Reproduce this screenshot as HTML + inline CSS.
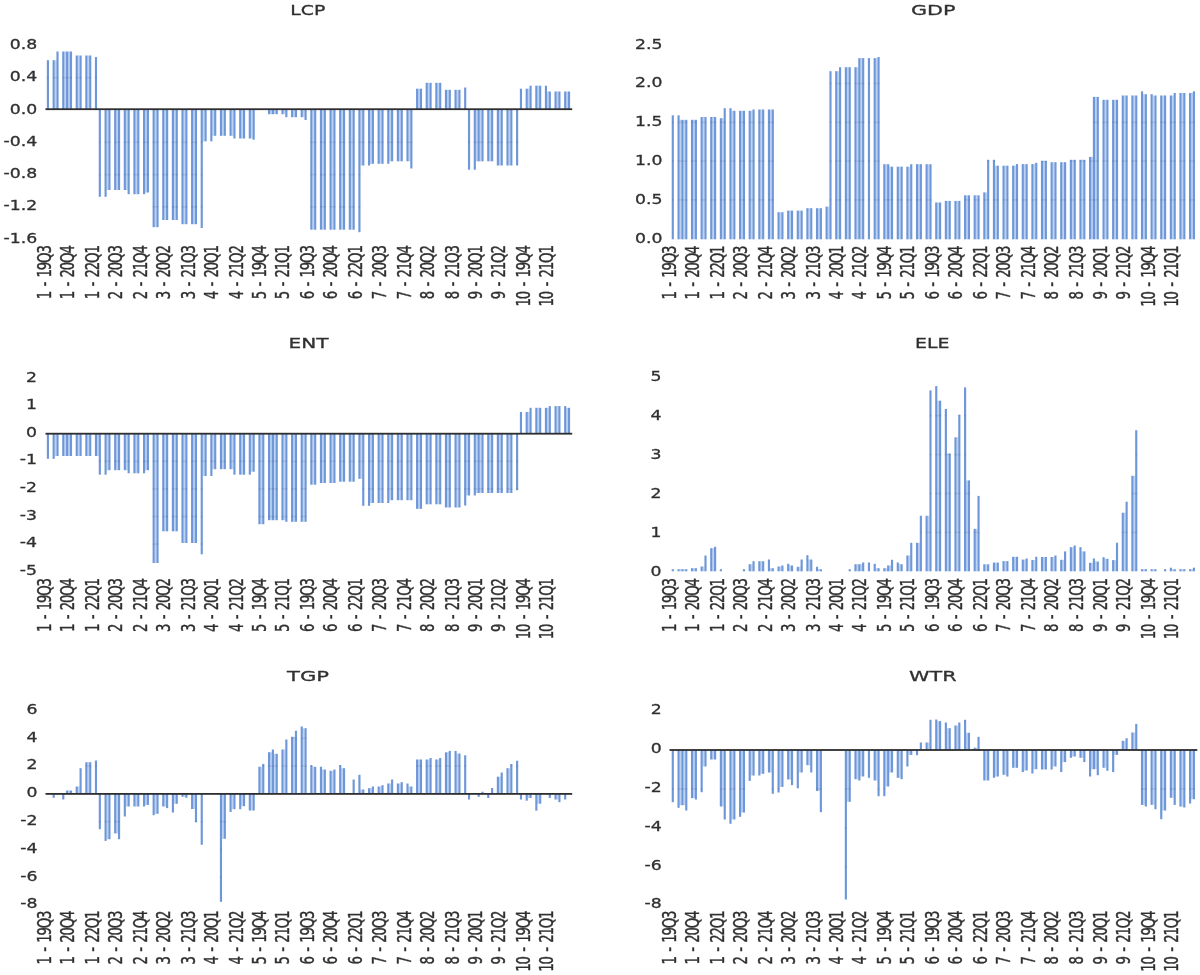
<!DOCTYPE html>
<html lang="en"><head><meta charset="utf-8"><title>Panel bar charts: LCP, GDP, ENT, ELE, TGP, WTR</title>
<style>html,body{margin:0;padding:0;background:#fff;}body{width:1200px;height:975px;overflow:hidden;}svg{display:block;}text{font-family:"DejaVu Sans", "Liberation Sans", sans-serif;fill:#303030;stroke:#303030;stroke-width:0.3px;}.t{stroke-width:0.3px;}.r{stroke-width:0.3px;letter-spacing:-1.15px;word-spacing:2.3px;}</style></head><body>
<svg width="1200" height="975" viewBox="0 0 1200 975">
<defs><filter id="soft" x="0" y="0" width="1200" height="975" filterUnits="userSpaceOnUse"><feGaussianBlur stdDeviation="0.62"/></filter></defs>
<rect width="1200" height="975" fill="#ffffff"/>
<g filter="url(#soft)">
<g>
<defs><g id="llcp"><rect x="54.63" y="60.2" width="1.92" height="49"/><rect x="64.25" y="51.5" width="1.92" height="57.7"/><rect x="68.09" y="51.5" width="1.92" height="57.7"/><rect x="77.71" y="55.5" width="1.92" height="53.7"/><rect x="87.32" y="55.5" width="1.92" height="53.7"/><rect x="106.55" y="109.2" width="1.92" height="80.8"/><rect x="116.17" y="109.2" width="1.92" height="80.8"/><rect x="125.78" y="109.2" width="1.92" height="80.8"/><rect x="135.4" y="109.2" width="1.92" height="85"/><rect x="145.01" y="109.2" width="1.92" height="83.3"/><rect x="154.63" y="109.2" width="1.92" height="118"/><rect x="164.24" y="109.2" width="1.92" height="110.8"/><rect x="173.86" y="109.2" width="1.92" height="110.8"/><rect x="183.47" y="109.2" width="1.92" height="115"/><rect x="193.09" y="109.2" width="1.92" height="115"/><rect x="202.7" y="109.2" width="1.92" height="32.1"/><rect x="212.32" y="109.2" width="1.92" height="26.6"/><rect x="221.93" y="109.2" width="1.92" height="26.6"/><rect x="231.55" y="109.2" width="1.92" height="26.6"/><rect x="241.16" y="109.2" width="1.92" height="29.3"/><rect x="250.78" y="109.2" width="1.92" height="29.3"/><rect x="270.01" y="109.2" width="1.92" height="5"/><rect x="273.85" y="109.2" width="1.92" height="5"/><rect x="283.47" y="109.2" width="1.92" height="5"/><rect x="293.08" y="109.2" width="1.92" height="8"/><rect x="302.7" y="109.2" width="1.92" height="8"/><rect x="312.31" y="109.2" width="1.92" height="120.5"/><rect x="321.93" y="109.2" width="1.92" height="120.5"/><rect x="331.54" y="109.2" width="1.92" height="120.5"/><rect x="341.16" y="109.2" width="1.92" height="120.5"/><rect x="350.77" y="109.2" width="1.92" height="120.5"/><rect x="360.39" y="109.2" width="1.92" height="56.3"/><rect x="370" y="109.2" width="1.92" height="54.6"/><rect x="379.62" y="109.2" width="1.92" height="54.6"/><rect x="389.23" y="109.2" width="1.92" height="52.1"/><rect x="398.85" y="109.2" width="1.92" height="52.1"/><rect x="408.46" y="109.2" width="1.92" height="52.1"/><rect x="418.08" y="88.7" width="1.92" height="20.5"/><rect x="427.69" y="82.8" width="1.92" height="26.4"/><rect x="437.31" y="82.8" width="1.92" height="26.4"/><rect x="446.92" y="89.8" width="1.92" height="19.4"/><rect x="456.54" y="89.8" width="1.92" height="19.4"/><rect x="475.77" y="109.2" width="1.92" height="52.1"/><rect x="479.61" y="109.2" width="1.92" height="52.1"/><rect x="489.23" y="109.2" width="1.92" height="52.1"/><rect x="498.84" y="109.2" width="1.92" height="56.3"/><rect x="508.46" y="109.2" width="1.92" height="56.3"/><rect x="527.69" y="88.7" width="1.92" height="20.5"/><rect x="537.3" y="85.7" width="1.92" height="23.5"/><rect x="546.92" y="91.5" width="1.92" height="17.7"/><rect x="556.53" y="91.5" width="1.92" height="17.7"/><rect x="566.15" y="91.5" width="1.92" height="17.7"/></g><g id="blcp"><rect x="46.82" y="60.2" width="2.15" height="49"/><rect x="52.59" y="60.2" width="2.15" height="49"/><rect x="56.44" y="51.5" width="2.15" height="57.7"/><rect x="62.21" y="51.5" width="2.15" height="57.7"/><rect x="66.05" y="51.5" width="2.15" height="57.7"/><rect x="69.9" y="51.5" width="2.15" height="57.7"/><rect x="75.67" y="55.5" width="2.15" height="53.7"/><rect x="79.52" y="55.5" width="2.15" height="53.7"/><rect x="85.28" y="55.5" width="2.15" height="53.7"/><rect x="89.13" y="55.5" width="2.15" height="53.7"/><rect x="94.9" y="57" width="2.15" height="52.2"/><rect x="98.75" y="109.2" width="2.15" height="87.6"/><rect x="104.52" y="109.2" width="2.15" height="87.6"/><rect x="108.36" y="109.2" width="2.15" height="80.8"/><rect x="114.13" y="109.2" width="2.15" height="80.8"/><rect x="117.98" y="109.2" width="2.15" height="80.8"/><rect x="123.74" y="109.2" width="2.15" height="80.8"/><rect x="127.59" y="109.2" width="2.15" height="85"/><rect x="133.36" y="109.2" width="2.15" height="85"/><rect x="137.21" y="109.2" width="2.15" height="85"/><rect x="142.98" y="109.2" width="2.15" height="85"/><rect x="146.82" y="109.2" width="2.15" height="83.3"/><rect x="152.59" y="109.2" width="2.15" height="118"/><rect x="156.44" y="109.2" width="2.15" height="118"/><rect x="162.21" y="109.2" width="2.15" height="110.8"/><rect x="166.05" y="109.2" width="2.15" height="110.8"/><rect x="171.82" y="109.2" width="2.15" height="110.8"/><rect x="175.67" y="109.2" width="2.15" height="110.8"/><rect x="181.44" y="109.2" width="2.15" height="115"/><rect x="185.28" y="109.2" width="2.15" height="115"/><rect x="191.05" y="109.2" width="2.15" height="115"/><rect x="194.9" y="109.2" width="2.15" height="115"/><rect x="200.67" y="109.2" width="2.15" height="118.8"/><rect x="204.51" y="109.2" width="2.15" height="32.1"/><rect x="210.28" y="109.2" width="2.15" height="32.1"/><rect x="214.13" y="109.2" width="2.15" height="26.6"/><rect x="219.9" y="109.2" width="2.15" height="26.6"/><rect x="223.74" y="109.2" width="2.15" height="26.6"/><rect x="229.51" y="109.2" width="2.15" height="26.6"/><rect x="233.36" y="109.2" width="2.15" height="29.3"/><rect x="239.13" y="109.2" width="2.15" height="29.3"/><rect x="242.97" y="109.2" width="2.15" height="29.3"/><rect x="248.74" y="109.2" width="2.15" height="29.3"/><rect x="252.59" y="109.2" width="2.15" height="30.5"/><rect x="267.97" y="109.2" width="2.15" height="5"/><rect x="271.82" y="109.2" width="2.15" height="5"/><rect x="275.66" y="109.2" width="2.15" height="5"/><rect x="281.43" y="109.2" width="2.15" height="5"/><rect x="285.28" y="109.2" width="2.15" height="8"/><rect x="291.05" y="109.2" width="2.15" height="8"/><rect x="294.89" y="109.2" width="2.15" height="8"/><rect x="300.66" y="109.2" width="2.15" height="8"/><rect x="304.51" y="109.2" width="2.15" height="10.8"/><rect x="310.28" y="109.2" width="2.15" height="120.5"/><rect x="314.12" y="109.2" width="2.15" height="120.5"/><rect x="319.89" y="109.2" width="2.15" height="120.5"/><rect x="323.74" y="109.2" width="2.15" height="120.5"/><rect x="329.51" y="109.2" width="2.15" height="120.5"/><rect x="333.35" y="109.2" width="2.15" height="120.5"/><rect x="339.12" y="109.2" width="2.15" height="120.5"/><rect x="342.97" y="109.2" width="2.15" height="120.5"/><rect x="348.74" y="109.2" width="2.15" height="120.5"/><rect x="352.58" y="109.2" width="2.15" height="120.5"/><rect x="358.35" y="109.2" width="2.15" height="123"/><rect x="362.2" y="109.2" width="2.15" height="56.3"/><rect x="367.97" y="109.2" width="2.15" height="56.3"/><rect x="371.81" y="109.2" width="2.15" height="54.6"/><rect x="377.58" y="109.2" width="2.15" height="54.6"/><rect x="381.43" y="109.2" width="2.15" height="54.6"/><rect x="387.2" y="109.2" width="2.15" height="54.6"/><rect x="391.04" y="109.2" width="2.15" height="52.1"/><rect x="396.81" y="109.2" width="2.15" height="52.1"/><rect x="400.66" y="109.2" width="2.15" height="52.1"/><rect x="406.43" y="109.2" width="2.15" height="52.1"/><rect x="410.27" y="109.2" width="2.15" height="59.3"/><rect x="416.04" y="88.7" width="2.15" height="20.5"/><rect x="419.89" y="88.7" width="2.15" height="20.5"/><rect x="425.66" y="82.8" width="2.15" height="26.4"/><rect x="429.5" y="82.8" width="2.15" height="26.4"/><rect x="435.27" y="82.8" width="2.15" height="26.4"/><rect x="439.12" y="82.8" width="2.15" height="26.4"/><rect x="444.89" y="89.8" width="2.15" height="19.4"/><rect x="448.73" y="89.8" width="2.15" height="19.4"/><rect x="454.5" y="89.8" width="2.15" height="19.4"/><rect x="458.35" y="89.8" width="2.15" height="19.4"/><rect x="464.12" y="87.5" width="2.15" height="21.7"/><rect x="467.96" y="109.2" width="2.15" height="60.5"/><rect x="473.73" y="109.2" width="2.15" height="60.5"/><rect x="477.58" y="109.2" width="2.15" height="52.1"/><rect x="481.42" y="109.2" width="2.15" height="52.1"/><rect x="487.19" y="109.2" width="2.15" height="52.1"/><rect x="491.04" y="109.2" width="2.15" height="52.1"/><rect x="496.81" y="109.2" width="2.15" height="56.3"/><rect x="500.65" y="109.2" width="2.15" height="56.3"/><rect x="506.42" y="109.2" width="2.15" height="56.3"/><rect x="510.27" y="109.2" width="2.15" height="56.3"/><rect x="516.04" y="109.2" width="2.15" height="56.3"/><rect x="519.88" y="88.7" width="2.15" height="20.5"/><rect x="525.65" y="88.7" width="2.15" height="20.5"/><rect x="529.5" y="85.7" width="2.15" height="23.5"/><rect x="535.27" y="85.7" width="2.15" height="23.5"/><rect x="539.11" y="85.7" width="2.15" height="23.5"/><rect x="544.88" y="85.7" width="2.15" height="23.5"/><rect x="548.73" y="91.5" width="2.15" height="17.7"/><rect x="554.5" y="91.5" width="2.15" height="17.7"/><rect x="558.34" y="91.5" width="2.15" height="17.7"/><rect x="564.11" y="91.5" width="2.15" height="17.7"/><rect x="567.96" y="91.5" width="2.15" height="17.7"/></g></defs>
<use href="#llcp" fill="#bdd2f1"/><use href="#blcp" fill="#6e97d9"/>
<mask id="mlcp" maskUnits="userSpaceOnUse" x="0" y="0" width="1200" height="975"><use href="#llcp" fill="#fff"/><use href="#blcp" fill="#fff"/></mask>
<g mask="url(#mlcp)" fill="rgba(40,60,120,0.13)"><rect x="37.9" y="44.66" width="540" height="1.6"/><rect x="37.9" y="76.93" width="540" height="1.6"/><rect x="37.9" y="141.47" width="540" height="1.6"/><rect x="37.9" y="173.74" width="540" height="1.6"/><rect x="37.9" y="206.01" width="540" height="1.6"/><rect x="37.9" y="238.28" width="540" height="1.6"/></g>
<rect x="45.5" y="108.3" width="526.7" height="1.8" fill="#2e2e2e"/>
<text class="t" x="307.8" y="14.8" font-size="14.9" text-anchor="middle" textLength="35" lengthAdjust="spacingAndGlyphs">LCP</text>
<text transform="translate(37.3,49.06) scale(1.3,1)" font-size="13.3" text-anchor="end">0.8</text>
<text transform="translate(37.3,81.33) scale(1.3,1)" font-size="13.3" text-anchor="end">0.4</text>
<text transform="translate(37.3,113.6) scale(1.3,1)" font-size="13.3" text-anchor="end">0.0</text>
<text transform="translate(37.3,145.87) scale(1.3,1)" font-size="13.3" text-anchor="end">-0.4</text>
<text transform="translate(37.3,178.14) scale(1.3,1)" font-size="13.3" text-anchor="end">-0.8</text>
<text transform="translate(37.3,210.41) scale(1.3,1)" font-size="13.3" text-anchor="end">-1.2</text>
<text transform="translate(37.3,242.68) scale(1.3,1)" font-size="13.3" text-anchor="end">-1.6</text>
<text transform="translate(50.9,246.3) scale(1.4,1) rotate(-90)" class="r" font-size="13.3" text-anchor="end">1 - 19Q3</text>
<text transform="translate(73.98,246.3) scale(1.4,1) rotate(-90)" class="r" font-size="13.3" text-anchor="end">1 - 20Q4</text>
<text transform="translate(98.97,246.3) scale(1.4,1) rotate(-90)" class="r" font-size="13.3" text-anchor="end">1 - 22Q1</text>
<text transform="translate(122.05,246.3) scale(1.4,1) rotate(-90)" class="r" font-size="13.3" text-anchor="end">2 - 20Q3</text>
<text transform="translate(147.05,246.3) scale(1.4,1) rotate(-90)" class="r" font-size="13.3" text-anchor="end">2 - 21Q4</text>
<text transform="translate(170.13,246.3) scale(1.4,1) rotate(-90)" class="r" font-size="13.3" text-anchor="end">3 - 20Q2</text>
<text transform="translate(195.12,246.3) scale(1.4,1) rotate(-90)" class="r" font-size="13.3" text-anchor="end">3 - 21Q3</text>
<text transform="translate(218.2,246.3) scale(1.4,1) rotate(-90)" class="r" font-size="13.3" text-anchor="end">4 - 20Q1</text>
<text transform="translate(243.2,246.3) scale(1.4,1) rotate(-90)" class="r" font-size="13.3" text-anchor="end">4 - 21Q2</text>
<text transform="translate(266.28,246.3) scale(1.4,1) rotate(-90)" class="r" font-size="13.3" text-anchor="end">5 - 19Q4</text>
<text transform="translate(289.35,246.3) scale(1.4,1) rotate(-90)" class="r" font-size="13.3" text-anchor="end">5 - 21Q1</text>
<text transform="translate(314.35,246.3) scale(1.4,1) rotate(-90)" class="r" font-size="13.3" text-anchor="end">6 - 19Q3</text>
<text transform="translate(337.43,246.3) scale(1.4,1) rotate(-90)" class="r" font-size="13.3" text-anchor="end">6 - 20Q4</text>
<text transform="translate(362.43,246.3) scale(1.4,1) rotate(-90)" class="r" font-size="13.3" text-anchor="end">6 - 22Q1</text>
<text transform="translate(385.5,246.3) scale(1.4,1) rotate(-90)" class="r" font-size="13.3" text-anchor="end">7 - 20Q3</text>
<text transform="translate(410.5,246.3) scale(1.4,1) rotate(-90)" class="r" font-size="13.3" text-anchor="end">7 - 21Q4</text>
<text transform="translate(433.58,246.3) scale(1.4,1) rotate(-90)" class="r" font-size="13.3" text-anchor="end">8 - 20Q2</text>
<text transform="translate(458.58,246.3) scale(1.4,1) rotate(-90)" class="r" font-size="13.3" text-anchor="end">8 - 21Q3</text>
<text transform="translate(481.65,246.3) scale(1.4,1) rotate(-90)" class="r" font-size="13.3" text-anchor="end">9 - 20Q1</text>
<text transform="translate(504.73,246.3) scale(1.4,1) rotate(-90)" class="r" font-size="13.3" text-anchor="end">9 - 21Q2</text>
<text transform="translate(529.73,246.3) scale(1.4,1) rotate(-90)" class="r" font-size="13.3" text-anchor="end">10 - 19Q4</text>
<text transform="translate(552.8,246.3) scale(1.4,1) rotate(-90)" class="r" font-size="13.3" text-anchor="end">10 - 21Q1</text>
</g>
<g>
<defs><g id="lgdp"><rect x="679.53" y="119.8" width="1.92" height="119.5"/><rect x="683.38" y="119.8" width="1.92" height="119.5"/><rect x="692.99" y="119.8" width="1.92" height="119.5"/><rect x="702.61" y="117" width="1.92" height="122.3"/><rect x="712.22" y="117" width="1.92" height="122.3"/><rect x="721.84" y="118.2" width="1.92" height="121.1"/><rect x="731.45" y="110.8" width="1.92" height="128.5"/><rect x="741.07" y="110.8" width="1.92" height="128.5"/><rect x="750.68" y="110.8" width="1.92" height="128.5"/><rect x="760.3" y="109.5" width="1.92" height="129.8"/><rect x="769.91" y="109.5" width="1.92" height="129.8"/><rect x="779.53" y="212.2" width="1.92" height="27.1"/><rect x="789.14" y="210.6" width="1.92" height="28.7"/><rect x="798.76" y="210.6" width="1.92" height="28.7"/><rect x="808.37" y="208.2" width="1.92" height="31.1"/><rect x="817.99" y="208.2" width="1.92" height="31.1"/><rect x="827.6" y="206.6" width="1.92" height="32.7"/><rect x="837.22" y="71.2" width="1.92" height="168.1"/><rect x="846.83" y="67.2" width="1.92" height="172.1"/><rect x="856.45" y="67.2" width="1.92" height="172.1"/><rect x="860.29" y="58.1" width="1.92" height="181.2"/><rect x="875.68" y="58.1" width="1.92" height="181.2"/><rect x="885.29" y="164.2" width="1.92" height="75.1"/><rect x="889.14" y="166.7" width="1.92" height="72.6"/><rect x="898.75" y="166.7" width="1.92" height="72.6"/><rect x="908.37" y="166.7" width="1.92" height="72.6"/><rect x="917.98" y="164.2" width="1.92" height="75.1"/><rect x="927.6" y="164.2" width="1.92" height="75.1"/><rect x="937.21" y="202.5" width="1.92" height="36.8"/><rect x="946.83" y="200.9" width="1.92" height="38.4"/><rect x="956.44" y="200.9" width="1.92" height="38.4"/><rect x="966.06" y="195.3" width="1.92" height="44"/><rect x="975.67" y="195.3" width="1.92" height="44"/><rect x="985.29" y="192.4" width="1.92" height="46.9"/><rect x="994.9" y="165.7" width="1.92" height="73.6"/><rect x="1004.52" y="165.7" width="1.92" height="73.6"/><rect x="1014.13" y="165.7" width="1.92" height="73.6"/><rect x="1023.75" y="164.1" width="1.92" height="75.2"/><rect x="1033.36" y="164.1" width="1.92" height="75.2"/><rect x="1042.98" y="160.8" width="1.92" height="78.5"/><rect x="1052.59" y="162.2" width="1.92" height="77.1"/><rect x="1062.21" y="162.2" width="1.92" height="77.1"/><rect x="1071.82" y="159.8" width="1.92" height="79.5"/><rect x="1081.44" y="159.8" width="1.92" height="79.5"/><rect x="1091.05" y="156.9" width="1.92" height="82.4"/><rect x="1094.9" y="96.9" width="1.92" height="142.4"/><rect x="1104.51" y="99.8" width="1.92" height="139.5"/><rect x="1114.13" y="99.8" width="1.92" height="139.5"/><rect x="1123.74" y="95.5" width="1.92" height="143.8"/><rect x="1133.36" y="95.5" width="1.92" height="143.8"/><rect x="1142.97" y="94.2" width="1.92" height="145.1"/><rect x="1152.59" y="95.5" width="1.92" height="143.8"/><rect x="1162.2" y="95.5" width="1.92" height="143.8"/><rect x="1171.82" y="95.5" width="1.92" height="143.8"/><rect x="1181.43" y="93" width="1.92" height="146.3"/><rect x="1191.05" y="93" width="1.92" height="146.3"/></g><g id="bgdp"><rect x="671.72" y="115.3" width="2.15" height="124"/><rect x="677.49" y="115.3" width="2.15" height="124"/><rect x="681.34" y="119.8" width="2.15" height="119.5"/><rect x="685.19" y="119.8" width="2.15" height="119.5"/><rect x="690.95" y="119.8" width="2.15" height="119.5"/><rect x="694.8" y="119.8" width="2.15" height="119.5"/><rect x="700.57" y="117" width="2.15" height="122.3"/><rect x="704.42" y="117" width="2.15" height="122.3"/><rect x="710.18" y="117" width="2.15" height="122.3"/><rect x="714.03" y="117" width="2.15" height="122.3"/><rect x="719.8" y="118.2" width="2.15" height="121.1"/><rect x="723.65" y="108.2" width="2.15" height="131.1"/><rect x="729.41" y="108.2" width="2.15" height="131.1"/><rect x="733.26" y="110.8" width="2.15" height="128.5"/><rect x="739.03" y="110.8" width="2.15" height="128.5"/><rect x="742.88" y="110.8" width="2.15" height="128.5"/><rect x="748.64" y="110.8" width="2.15" height="128.5"/><rect x="752.49" y="109.5" width="2.15" height="129.8"/><rect x="758.26" y="109.5" width="2.15" height="129.8"/><rect x="762.11" y="109.5" width="2.15" height="129.8"/><rect x="767.87" y="109.5" width="2.15" height="129.8"/><rect x="771.72" y="109.5" width="2.15" height="129.8"/><rect x="777.49" y="212.2" width="2.15" height="27.1"/><rect x="781.34" y="212.2" width="2.15" height="27.1"/><rect x="787.1" y="210.6" width="2.15" height="28.7"/><rect x="790.95" y="210.6" width="2.15" height="28.7"/><rect x="796.72" y="210.6" width="2.15" height="28.7"/><rect x="800.57" y="210.6" width="2.15" height="28.7"/><rect x="806.33" y="208.2" width="2.15" height="31.1"/><rect x="810.18" y="208.2" width="2.15" height="31.1"/><rect x="815.95" y="208.2" width="2.15" height="31.1"/><rect x="819.8" y="208.2" width="2.15" height="31.1"/><rect x="825.56" y="206.6" width="2.15" height="32.7"/><rect x="829.41" y="71.2" width="2.15" height="168.1"/><rect x="835.18" y="71.2" width="2.15" height="168.1"/><rect x="839.03" y="67.2" width="2.15" height="172.1"/><rect x="844.79" y="67.2" width="2.15" height="172.1"/><rect x="848.64" y="67.2" width="2.15" height="172.1"/><rect x="854.41" y="67.2" width="2.15" height="172.1"/><rect x="858.26" y="58.1" width="2.15" height="181.2"/><rect x="862.1" y="58.1" width="2.15" height="181.2"/><rect x="867.87" y="58.1" width="2.15" height="181.2"/><rect x="873.64" y="58.1" width="2.15" height="181.2"/><rect x="877.49" y="57" width="2.15" height="182.3"/><rect x="883.25" y="164.2" width="2.15" height="75.1"/><rect x="887.1" y="164.2" width="2.15" height="75.1"/><rect x="890.95" y="166.7" width="2.15" height="72.6"/><rect x="896.72" y="166.7" width="2.15" height="72.6"/><rect x="900.56" y="166.7" width="2.15" height="72.6"/><rect x="906.33" y="166.7" width="2.15" height="72.6"/><rect x="910.18" y="164.2" width="2.15" height="75.1"/><rect x="915.95" y="164.2" width="2.15" height="75.1"/><rect x="919.79" y="164.2" width="2.15" height="75.1"/><rect x="925.56" y="164.2" width="2.15" height="75.1"/><rect x="929.41" y="164.2" width="2.15" height="75.1"/><rect x="935.18" y="202.5" width="2.15" height="36.8"/><rect x="939.02" y="202.5" width="2.15" height="36.8"/><rect x="944.79" y="200.9" width="2.15" height="38.4"/><rect x="948.64" y="200.9" width="2.15" height="38.4"/><rect x="954.41" y="200.9" width="2.15" height="38.4"/><rect x="958.25" y="200.9" width="2.15" height="38.4"/><rect x="964.02" y="195.3" width="2.15" height="44"/><rect x="967.87" y="195.3" width="2.15" height="44"/><rect x="973.64" y="195.3" width="2.15" height="44"/><rect x="977.48" y="195.3" width="2.15" height="44"/><rect x="983.25" y="192.4" width="2.15" height="46.9"/><rect x="987.1" y="159.8" width="2.15" height="79.5"/><rect x="992.87" y="159.8" width="2.15" height="79.5"/><rect x="996.71" y="165.7" width="2.15" height="73.6"/><rect x="1002.48" y="165.7" width="2.15" height="73.6"/><rect x="1006.33" y="165.7" width="2.15" height="73.6"/><rect x="1012.1" y="165.7" width="2.15" height="73.6"/><rect x="1015.94" y="164.1" width="2.15" height="75.2"/><rect x="1021.71" y="164.1" width="2.15" height="75.2"/><rect x="1025.56" y="164.1" width="2.15" height="75.2"/><rect x="1031.33" y="164.1" width="2.15" height="75.2"/><rect x="1035.17" y="162.8" width="2.15" height="76.5"/><rect x="1040.94" y="160.8" width="2.15" height="78.5"/><rect x="1044.79" y="160.8" width="2.15" height="78.5"/><rect x="1050.56" y="162.2" width="2.15" height="77.1"/><rect x="1054.4" y="162.2" width="2.15" height="77.1"/><rect x="1060.17" y="162.2" width="2.15" height="77.1"/><rect x="1064.02" y="162.2" width="2.15" height="77.1"/><rect x="1069.79" y="159.8" width="2.15" height="79.5"/><rect x="1073.63" y="159.8" width="2.15" height="79.5"/><rect x="1079.4" y="159.8" width="2.15" height="79.5"/><rect x="1083.25" y="159.8" width="2.15" height="79.5"/><rect x="1089.02" y="156.9" width="2.15" height="82.4"/><rect x="1092.86" y="96.9" width="2.15" height="142.4"/><rect x="1096.71" y="96.9" width="2.15" height="142.4"/><rect x="1102.48" y="99.8" width="2.15" height="139.5"/><rect x="1106.32" y="99.8" width="2.15" height="139.5"/><rect x="1112.09" y="99.8" width="2.15" height="139.5"/><rect x="1115.94" y="99.8" width="2.15" height="139.5"/><rect x="1121.71" y="95.5" width="2.15" height="143.8"/><rect x="1125.55" y="95.5" width="2.15" height="143.8"/><rect x="1131.32" y="95.5" width="2.15" height="143.8"/><rect x="1135.17" y="95.5" width="2.15" height="143.8"/><rect x="1140.94" y="91.3" width="2.15" height="148"/><rect x="1144.78" y="94.2" width="2.15" height="145.1"/><rect x="1150.55" y="94.2" width="2.15" height="145.1"/><rect x="1154.4" y="95.5" width="2.15" height="143.8"/><rect x="1160.17" y="95.5" width="2.15" height="143.8"/><rect x="1164.01" y="95.5" width="2.15" height="143.8"/><rect x="1169.78" y="95.5" width="2.15" height="143.8"/><rect x="1173.63" y="93" width="2.15" height="146.3"/><rect x="1179.4" y="93" width="2.15" height="146.3"/><rect x="1183.24" y="93" width="2.15" height="146.3"/><rect x="1189.01" y="93" width="2.15" height="146.3"/><rect x="1192.86" y="91.3" width="2.15" height="148"/></g></defs>
<use href="#lgdp" fill="#bdd2f1"/><use href="#bgdp" fill="#6e97d9"/>
<mask id="mgdp" maskUnits="userSpaceOnUse" x="0" y="0" width="1200" height="975"><use href="#lgdp" fill="#fff"/><use href="#bgdp" fill="#fff"/></mask>
<g mask="url(#mgdp)" fill="rgba(40,60,120,0.13)"><rect x="662.8" y="43.9" width="540" height="1.6"/><rect x="662.8" y="82.7" width="540" height="1.6"/><rect x="662.8" y="121.5" width="540" height="1.6"/><rect x="662.8" y="160.3" width="540" height="1.6"/><rect x="662.8" y="199.1" width="540" height="1.6"/></g>
<text class="t" x="933.2" y="14.8" font-size="14.9" text-anchor="middle" textLength="44.5" lengthAdjust="spacingAndGlyphs">GDP</text>
<text transform="translate(662.4,48.6) scale(1.3,1)" font-size="13.3" text-anchor="end">2.5</text>
<text transform="translate(662.4,87.4) scale(1.3,1)" font-size="13.3" text-anchor="end">2.0</text>
<text transform="translate(662.4,126.2) scale(1.3,1)" font-size="13.3" text-anchor="end">1.5</text>
<text transform="translate(662.4,165) scale(1.3,1)" font-size="13.3" text-anchor="end">1.0</text>
<text transform="translate(662.4,203.8) scale(1.3,1)" font-size="13.3" text-anchor="end">0.5</text>
<text transform="translate(662.4,242.6) scale(1.3,1)" font-size="13.3" text-anchor="end">0.0</text>
<text transform="translate(675.8,246.6) scale(1.4,1) rotate(-90)" class="r" font-size="13.3" text-anchor="end">1 - 19Q3</text>
<text transform="translate(698.88,246.6) scale(1.4,1) rotate(-90)" class="r" font-size="13.3" text-anchor="end">1 - 20Q4</text>
<text transform="translate(723.88,246.6) scale(1.4,1) rotate(-90)" class="r" font-size="13.3" text-anchor="end">1 - 22Q1</text>
<text transform="translate(746.95,246.6) scale(1.4,1) rotate(-90)" class="r" font-size="13.3" text-anchor="end">2 - 20Q3</text>
<text transform="translate(771.95,246.6) scale(1.4,1) rotate(-90)" class="r" font-size="13.3" text-anchor="end">2 - 21Q4</text>
<text transform="translate(795.03,246.6) scale(1.4,1) rotate(-90)" class="r" font-size="13.3" text-anchor="end">3 - 20Q2</text>
<text transform="translate(820.02,246.6) scale(1.4,1) rotate(-90)" class="r" font-size="13.3" text-anchor="end">3 - 21Q3</text>
<text transform="translate(843.1,246.6) scale(1.4,1) rotate(-90)" class="r" font-size="13.3" text-anchor="end">4 - 20Q1</text>
<text transform="translate(866.18,246.6) scale(1.4,1) rotate(-90)" class="r" font-size="13.3" text-anchor="end">4 - 21Q2</text>
<text transform="translate(891.18,246.6) scale(1.4,1) rotate(-90)" class="r" font-size="13.3" text-anchor="end">5 - 19Q4</text>
<text transform="translate(914.25,246.6) scale(1.4,1) rotate(-90)" class="r" font-size="13.3" text-anchor="end">5 - 21Q1</text>
<text transform="translate(939.25,246.6) scale(1.4,1) rotate(-90)" class="r" font-size="13.3" text-anchor="end">6 - 19Q3</text>
<text transform="translate(962.33,246.6) scale(1.4,1) rotate(-90)" class="r" font-size="13.3" text-anchor="end">6 - 20Q4</text>
<text transform="translate(987.33,246.6) scale(1.4,1) rotate(-90)" class="r" font-size="13.3" text-anchor="end">6 - 22Q1</text>
<text transform="translate(1010.4,246.6) scale(1.4,1) rotate(-90)" class="r" font-size="13.3" text-anchor="end">7 - 20Q3</text>
<text transform="translate(1035.4,246.6) scale(1.4,1) rotate(-90)" class="r" font-size="13.3" text-anchor="end">7 - 21Q4</text>
<text transform="translate(1058.48,246.6) scale(1.4,1) rotate(-90)" class="r" font-size="13.3" text-anchor="end">8 - 20Q2</text>
<text transform="translate(1083.48,246.6) scale(1.4,1) rotate(-90)" class="r" font-size="13.3" text-anchor="end">8 - 21Q3</text>
<text transform="translate(1106.55,246.6) scale(1.4,1) rotate(-90)" class="r" font-size="13.3" text-anchor="end">9 - 20Q1</text>
<text transform="translate(1129.63,246.6) scale(1.4,1) rotate(-90)" class="r" font-size="13.3" text-anchor="end">9 - 21Q2</text>
<text transform="translate(1154.63,246.6) scale(1.4,1) rotate(-90)" class="r" font-size="13.3" text-anchor="end">10 - 19Q4</text>
<text transform="translate(1177.7,246.6) scale(1.4,1) rotate(-90)" class="r" font-size="13.3" text-anchor="end">10 - 21Q1</text>
</g>
<g>
<defs><g id="lent"><rect x="54.63" y="433.7" width="1.92" height="22.3"/><rect x="64.25" y="433.7" width="1.92" height="22.3"/><rect x="68.09" y="433.7" width="1.92" height="22.3"/><rect x="77.71" y="433.7" width="1.92" height="22.3"/><rect x="87.32" y="433.7" width="1.92" height="22.3"/><rect x="96.94" y="433.7" width="1.92" height="22.3"/><rect x="106.55" y="433.7" width="1.92" height="36.5"/><rect x="116.17" y="433.7" width="1.92" height="36.5"/><rect x="125.78" y="433.7" width="1.92" height="36.5"/><rect x="135.4" y="433.7" width="1.92" height="39.6"/><rect x="145.01" y="433.7" width="1.92" height="36.5"/><rect x="154.63" y="433.7" width="1.92" height="129.3"/><rect x="164.24" y="433.7" width="1.92" height="97.6"/><rect x="173.86" y="433.7" width="1.92" height="97.6"/><rect x="183.47" y="433.7" width="1.92" height="109.3"/><rect x="193.09" y="433.7" width="1.92" height="109.3"/><rect x="202.7" y="433.7" width="1.92" height="42.3"/><rect x="212.32" y="433.7" width="1.92" height="35.5"/><rect x="221.93" y="433.7" width="1.92" height="35.5"/><rect x="231.55" y="433.7" width="1.92" height="35.5"/><rect x="241.16" y="433.7" width="1.92" height="41"/><rect x="250.78" y="433.7" width="1.92" height="38"/><rect x="260.39" y="433.7" width="1.92" height="90.5"/><rect x="270.01" y="433.7" width="1.92" height="86.5"/><rect x="273.85" y="433.7" width="1.92" height="86.5"/><rect x="283.47" y="433.7" width="1.92" height="86.5"/><rect x="293.08" y="433.7" width="1.92" height="88.1"/><rect x="302.7" y="433.7" width="1.92" height="88.1"/><rect x="312.31" y="433.7" width="1.92" height="51"/><rect x="321.93" y="433.7" width="1.92" height="49.3"/><rect x="331.54" y="433.7" width="1.92" height="49.3"/><rect x="341.16" y="433.7" width="1.92" height="48"/><rect x="350.77" y="433.7" width="1.92" height="48"/><rect x="360.39" y="433.7" width="1.92" height="45.1"/><rect x="370" y="433.7" width="1.92" height="69.3"/><rect x="379.62" y="433.7" width="1.92" height="69.3"/><rect x="389.23" y="433.7" width="1.92" height="66.5"/><rect x="398.85" y="433.7" width="1.92" height="66.5"/><rect x="408.46" y="433.7" width="1.92" height="66.5"/><rect x="418.08" y="433.7" width="1.92" height="75.1"/><rect x="427.69" y="433.7" width="1.92" height="70.6"/><rect x="437.31" y="433.7" width="1.92" height="70.6"/><rect x="446.92" y="433.7" width="1.92" height="73.8"/><rect x="456.54" y="433.7" width="1.92" height="73.8"/><rect x="466.15" y="433.7" width="1.92" height="61.8"/><rect x="475.77" y="433.7" width="1.92" height="59.3"/><rect x="479.61" y="433.7" width="1.92" height="59.3"/><rect x="489.23" y="433.7" width="1.92" height="59.3"/><rect x="498.84" y="433.7" width="1.92" height="59.3"/><rect x="508.46" y="433.7" width="1.92" height="59.3"/><rect x="527.69" y="412" width="1.92" height="21.7"/><rect x="537.3" y="407.8" width="1.92" height="25.9"/><rect x="546.92" y="407.8" width="1.92" height="25.9"/><rect x="556.53" y="406.2" width="1.92" height="27.5"/><rect x="566.15" y="407.8" width="1.92" height="25.9"/></g><g id="bent"><rect x="46.82" y="433.7" width="2.15" height="25.1"/><rect x="52.59" y="433.7" width="2.15" height="25.1"/><rect x="56.44" y="433.7" width="2.15" height="22.3"/><rect x="62.21" y="433.7" width="2.15" height="22.3"/><rect x="66.05" y="433.7" width="2.15" height="22.3"/><rect x="69.9" y="433.7" width="2.15" height="22.3"/><rect x="75.67" y="433.7" width="2.15" height="22.3"/><rect x="79.52" y="433.7" width="2.15" height="22.3"/><rect x="85.28" y="433.7" width="2.15" height="22.3"/><rect x="89.13" y="433.7" width="2.15" height="22.3"/><rect x="94.9" y="433.7" width="2.15" height="22.3"/><rect x="98.75" y="433.7" width="2.15" height="41"/><rect x="104.52" y="433.7" width="2.15" height="41"/><rect x="108.36" y="433.7" width="2.15" height="36.5"/><rect x="114.13" y="433.7" width="2.15" height="36.5"/><rect x="117.98" y="433.7" width="2.15" height="36.5"/><rect x="123.74" y="433.7" width="2.15" height="36.5"/><rect x="127.59" y="433.7" width="2.15" height="39.6"/><rect x="133.36" y="433.7" width="2.15" height="39.6"/><rect x="137.21" y="433.7" width="2.15" height="39.6"/><rect x="142.98" y="433.7" width="2.15" height="39.6"/><rect x="146.82" y="433.7" width="2.15" height="36.5"/><rect x="152.59" y="433.7" width="2.15" height="129.3"/><rect x="156.44" y="433.7" width="2.15" height="129.3"/><rect x="162.21" y="433.7" width="2.15" height="97.6"/><rect x="166.05" y="433.7" width="2.15" height="97.6"/><rect x="171.82" y="433.7" width="2.15" height="97.6"/><rect x="175.67" y="433.7" width="2.15" height="97.6"/><rect x="181.44" y="433.7" width="2.15" height="109.3"/><rect x="185.28" y="433.7" width="2.15" height="109.3"/><rect x="191.05" y="433.7" width="2.15" height="109.3"/><rect x="194.9" y="433.7" width="2.15" height="109.3"/><rect x="200.67" y="433.7" width="2.15" height="120.6"/><rect x="204.51" y="433.7" width="2.15" height="42.3"/><rect x="210.28" y="433.7" width="2.15" height="42.3"/><rect x="214.13" y="433.7" width="2.15" height="35.5"/><rect x="219.9" y="433.7" width="2.15" height="35.5"/><rect x="223.74" y="433.7" width="2.15" height="35.5"/><rect x="229.51" y="433.7" width="2.15" height="35.5"/><rect x="233.36" y="433.7" width="2.15" height="41"/><rect x="239.13" y="433.7" width="2.15" height="41"/><rect x="242.97" y="433.7" width="2.15" height="41"/><rect x="248.74" y="433.7" width="2.15" height="41"/><rect x="252.59" y="433.7" width="2.15" height="38"/><rect x="258.36" y="433.7" width="2.15" height="90.5"/><rect x="262.2" y="433.7" width="2.15" height="90.5"/><rect x="267.97" y="433.7" width="2.15" height="86.5"/><rect x="271.82" y="433.7" width="2.15" height="86.5"/><rect x="275.66" y="433.7" width="2.15" height="86.5"/><rect x="281.43" y="433.7" width="2.15" height="86.5"/><rect x="285.28" y="433.7" width="2.15" height="88.1"/><rect x="291.05" y="433.7" width="2.15" height="88.1"/><rect x="294.89" y="433.7" width="2.15" height="88.1"/><rect x="300.66" y="433.7" width="2.15" height="88.1"/><rect x="304.51" y="433.7" width="2.15" height="88.1"/><rect x="310.28" y="433.7" width="2.15" height="51"/><rect x="314.12" y="433.7" width="2.15" height="51"/><rect x="319.89" y="433.7" width="2.15" height="49.3"/><rect x="323.74" y="433.7" width="2.15" height="49.3"/><rect x="329.51" y="433.7" width="2.15" height="49.3"/><rect x="333.35" y="433.7" width="2.15" height="49.3"/><rect x="339.12" y="433.7" width="2.15" height="48"/><rect x="342.97" y="433.7" width="2.15" height="48"/><rect x="348.74" y="433.7" width="2.15" height="48"/><rect x="352.58" y="433.7" width="2.15" height="48"/><rect x="358.35" y="433.7" width="2.15" height="45.1"/><rect x="362.2" y="433.7" width="2.15" height="72.1"/><rect x="367.97" y="433.7" width="2.15" height="72.1"/><rect x="371.81" y="433.7" width="2.15" height="69.3"/><rect x="377.58" y="433.7" width="2.15" height="69.3"/><rect x="381.43" y="433.7" width="2.15" height="69.3"/><rect x="387.2" y="433.7" width="2.15" height="69.3"/><rect x="391.04" y="433.7" width="2.15" height="66.5"/><rect x="396.81" y="433.7" width="2.15" height="66.5"/><rect x="400.66" y="433.7" width="2.15" height="66.5"/><rect x="406.43" y="433.7" width="2.15" height="66.5"/><rect x="410.27" y="433.7" width="2.15" height="66.5"/><rect x="416.04" y="433.7" width="2.15" height="75.1"/><rect x="419.89" y="433.7" width="2.15" height="75.1"/><rect x="425.66" y="433.7" width="2.15" height="70.6"/><rect x="429.5" y="433.7" width="2.15" height="70.6"/><rect x="435.27" y="433.7" width="2.15" height="70.6"/><rect x="439.12" y="433.7" width="2.15" height="70.6"/><rect x="444.89" y="433.7" width="2.15" height="73.8"/><rect x="448.73" y="433.7" width="2.15" height="73.8"/><rect x="454.5" y="433.7" width="2.15" height="73.8"/><rect x="458.35" y="433.7" width="2.15" height="73.8"/><rect x="464.12" y="433.7" width="2.15" height="71.8"/><rect x="467.96" y="433.7" width="2.15" height="61.8"/><rect x="473.73" y="433.7" width="2.15" height="61.8"/><rect x="477.58" y="433.7" width="2.15" height="59.3"/><rect x="481.42" y="433.7" width="2.15" height="59.3"/><rect x="487.19" y="433.7" width="2.15" height="59.3"/><rect x="491.04" y="433.7" width="2.15" height="59.3"/><rect x="496.81" y="433.7" width="2.15" height="59.3"/><rect x="500.65" y="433.7" width="2.15" height="59.3"/><rect x="506.42" y="433.7" width="2.15" height="59.3"/><rect x="510.27" y="433.7" width="2.15" height="59.3"/><rect x="516.04" y="433.7" width="2.15" height="56.5"/><rect x="519.88" y="412" width="2.15" height="21.7"/><rect x="525.65" y="412" width="2.15" height="21.7"/><rect x="529.5" y="407.8" width="2.15" height="25.9"/><rect x="535.27" y="407.8" width="2.15" height="25.9"/><rect x="539.11" y="407.8" width="2.15" height="25.9"/><rect x="544.88" y="407.8" width="2.15" height="25.9"/><rect x="548.73" y="406.2" width="2.15" height="27.5"/><rect x="554.5" y="406.2" width="2.15" height="27.5"/><rect x="558.34" y="406.2" width="2.15" height="27.5"/><rect x="564.11" y="406.2" width="2.15" height="27.5"/><rect x="567.96" y="407.8" width="2.15" height="25.9"/></g></defs>
<use href="#lent" fill="#bdd2f1"/><use href="#bent" fill="#6e97d9"/>
<mask id="ment" maskUnits="userSpaceOnUse" x="0" y="0" width="1200" height="975"><use href="#lent" fill="#fff"/><use href="#bent" fill="#fff"/></mask>
<g mask="url(#ment)" fill="rgba(40,60,120,0.13)"><rect x="37.9" y="377.7" width="540" height="1.6"/><rect x="37.9" y="405.3" width="540" height="1.6"/><rect x="37.9" y="460.5" width="540" height="1.6"/><rect x="37.9" y="488.1" width="540" height="1.6"/><rect x="37.9" y="515.7" width="540" height="1.6"/><rect x="37.9" y="543.3" width="540" height="1.6"/><rect x="37.9" y="570.9" width="540" height="1.6"/></g>
<rect x="45.5" y="432.8" width="526.7" height="1.8" fill="#2e2e2e"/>
<text class="t" x="308.5" y="348" font-size="14.9" text-anchor="middle" textLength="40" lengthAdjust="spacingAndGlyphs">ENT</text>
<text transform="translate(36.9,381.5) scale(1.3,1)" font-size="13.3" text-anchor="end">2</text>
<text transform="translate(36.9,409.1) scale(1.3,1)" font-size="13.3" text-anchor="end">1</text>
<text transform="translate(36.9,436.7) scale(1.3,1)" font-size="13.3" text-anchor="end">0</text>
<text transform="translate(36.9,464.3) scale(1.3,1)" font-size="13.3" text-anchor="end">-1</text>
<text transform="translate(36.9,491.9) scale(1.3,1)" font-size="13.3" text-anchor="end">-2</text>
<text transform="translate(36.9,519.5) scale(1.3,1)" font-size="13.3" text-anchor="end">-3</text>
<text transform="translate(36.9,547.1) scale(1.3,1)" font-size="13.3" text-anchor="end">-4</text>
<text transform="translate(36.9,574.7) scale(1.3,1)" font-size="13.3" text-anchor="end">-5</text>
<text transform="translate(50.9,579.1) scale(1.4,1) rotate(-90)" class="r" font-size="13.3" text-anchor="end">1 - 19Q3</text>
<text transform="translate(73.98,579.1) scale(1.4,1) rotate(-90)" class="r" font-size="13.3" text-anchor="end">1 - 20Q4</text>
<text transform="translate(98.97,579.1) scale(1.4,1) rotate(-90)" class="r" font-size="13.3" text-anchor="end">1 - 22Q1</text>
<text transform="translate(122.05,579.1) scale(1.4,1) rotate(-90)" class="r" font-size="13.3" text-anchor="end">2 - 20Q3</text>
<text transform="translate(147.05,579.1) scale(1.4,1) rotate(-90)" class="r" font-size="13.3" text-anchor="end">2 - 21Q4</text>
<text transform="translate(170.13,579.1) scale(1.4,1) rotate(-90)" class="r" font-size="13.3" text-anchor="end">3 - 20Q2</text>
<text transform="translate(195.12,579.1) scale(1.4,1) rotate(-90)" class="r" font-size="13.3" text-anchor="end">3 - 21Q3</text>
<text transform="translate(218.2,579.1) scale(1.4,1) rotate(-90)" class="r" font-size="13.3" text-anchor="end">4 - 20Q1</text>
<text transform="translate(243.2,579.1) scale(1.4,1) rotate(-90)" class="r" font-size="13.3" text-anchor="end">4 - 21Q2</text>
<text transform="translate(266.28,579.1) scale(1.4,1) rotate(-90)" class="r" font-size="13.3" text-anchor="end">5 - 19Q4</text>
<text transform="translate(289.35,579.1) scale(1.4,1) rotate(-90)" class="r" font-size="13.3" text-anchor="end">5 - 21Q1</text>
<text transform="translate(314.35,579.1) scale(1.4,1) rotate(-90)" class="r" font-size="13.3" text-anchor="end">6 - 19Q3</text>
<text transform="translate(337.43,579.1) scale(1.4,1) rotate(-90)" class="r" font-size="13.3" text-anchor="end">6 - 20Q4</text>
<text transform="translate(362.43,579.1) scale(1.4,1) rotate(-90)" class="r" font-size="13.3" text-anchor="end">6 - 22Q1</text>
<text transform="translate(385.5,579.1) scale(1.4,1) rotate(-90)" class="r" font-size="13.3" text-anchor="end">7 - 20Q3</text>
<text transform="translate(410.5,579.1) scale(1.4,1) rotate(-90)" class="r" font-size="13.3" text-anchor="end">7 - 21Q4</text>
<text transform="translate(433.58,579.1) scale(1.4,1) rotate(-90)" class="r" font-size="13.3" text-anchor="end">8 - 20Q2</text>
<text transform="translate(458.58,579.1) scale(1.4,1) rotate(-90)" class="r" font-size="13.3" text-anchor="end">8 - 21Q3</text>
<text transform="translate(481.65,579.1) scale(1.4,1) rotate(-90)" class="r" font-size="13.3" text-anchor="end">9 - 20Q1</text>
<text transform="translate(504.73,579.1) scale(1.4,1) rotate(-90)" class="r" font-size="13.3" text-anchor="end">9 - 21Q2</text>
<text transform="translate(529.73,579.1) scale(1.4,1) rotate(-90)" class="r" font-size="13.3" text-anchor="end">10 - 19Q4</text>
<text transform="translate(552.8,579.1) scale(1.4,1) rotate(-90)" class="r" font-size="13.3" text-anchor="end">10 - 21Q1</text>
</g>
<g>
<defs><g id="lele"><rect x="679.53" y="569.2" width="1.92" height="2.1"/><rect x="683.38" y="569.2" width="1.92" height="2.1"/><rect x="692.99" y="568.2" width="1.92" height="3.1"/><rect x="702.61" y="566.5" width="1.92" height="4.8"/><rect x="712.22" y="548.2" width="1.92" height="23.1"/><rect x="750.68" y="564.2" width="1.92" height="7.1"/><rect x="760.3" y="561.2" width="1.92" height="10.1"/><rect x="769.91" y="568.2" width="1.92" height="3.1"/><rect x="779.53" y="566.5" width="1.92" height="4.8"/><rect x="789.14" y="565.5" width="1.92" height="5.8"/><rect x="798.76" y="566.8" width="1.92" height="4.5"/><rect x="808.37" y="559.5" width="1.92" height="11.8"/><rect x="817.99" y="569.2" width="1.92" height="2.1"/><rect x="856.45" y="564.2" width="1.92" height="7.1"/><rect x="860.29" y="564.2" width="1.92" height="7.1"/><rect x="875.68" y="568.2" width="1.92" height="3.1"/><rect x="885.29" y="568.2" width="1.92" height="3.1"/><rect x="889.14" y="565.5" width="1.92" height="5.8"/><rect x="898.75" y="564.2" width="1.92" height="7.1"/><rect x="908.37" y="555.5" width="1.92" height="15.8"/><rect x="917.98" y="542.8" width="1.92" height="28.5"/><rect x="927.6" y="515.8" width="1.92" height="55.5"/><rect x="937.21" y="400.7" width="1.92" height="170.6"/><rect x="946.83" y="453.5" width="1.92" height="117.8"/><rect x="956.44" y="437.3" width="1.92" height="134"/><rect x="966.06" y="480.4" width="1.92" height="90.9"/><rect x="975.67" y="528.8" width="1.92" height="42.5"/><rect x="985.29" y="564.3" width="1.92" height="7"/><rect x="994.9" y="562.6" width="1.92" height="8.7"/><rect x="1004.52" y="561.1" width="1.92" height="10.2"/><rect x="1014.13" y="556.8" width="1.92" height="14.5"/><rect x="1023.75" y="559.6" width="1.92" height="11.7"/><rect x="1033.36" y="560" width="1.92" height="11.3"/><rect x="1042.98" y="557" width="1.92" height="14.3"/><rect x="1052.59" y="557" width="1.92" height="14.3"/><rect x="1062.21" y="559.8" width="1.92" height="11.5"/><rect x="1071.82" y="547.2" width="1.92" height="24.1"/><rect x="1081.44" y="551.4" width="1.92" height="19.9"/><rect x="1091.05" y="562.8" width="1.92" height="8.5"/><rect x="1094.9" y="561.5" width="1.92" height="9.8"/><rect x="1104.51" y="558.8" width="1.92" height="12.5"/><rect x="1114.13" y="560.1" width="1.92" height="11.2"/><rect x="1123.74" y="512.7" width="1.92" height="58.6"/><rect x="1133.36" y="475.8" width="1.92" height="95.5"/><rect x="1142.97" y="569.2" width="1.92" height="2.1"/><rect x="1152.59" y="569.2" width="1.92" height="2.1"/><rect x="1171.82" y="569.2" width="1.92" height="2.1"/><rect x="1181.43" y="569.2" width="1.92" height="2.1"/><rect x="1191.05" y="569.2" width="1.92" height="2.1"/></g><g id="bele"><rect x="671.72" y="569.2" width="2.15" height="2.1"/><rect x="677.49" y="569.2" width="2.15" height="2.1"/><rect x="681.34" y="569.2" width="2.15" height="2.1"/><rect x="685.19" y="569.2" width="2.15" height="2.1"/><rect x="690.95" y="568.2" width="2.15" height="3.1"/><rect x="694.8" y="568.2" width="2.15" height="3.1"/><rect x="700.57" y="566.5" width="2.15" height="4.8"/><rect x="704.42" y="555.5" width="2.15" height="15.8"/><rect x="710.18" y="548.2" width="2.15" height="23.1"/><rect x="714.03" y="546.8" width="2.15" height="24.5"/><rect x="719.8" y="569.2" width="2.15" height="2.1"/><rect x="742.88" y="569.2" width="2.15" height="2.1"/><rect x="748.64" y="564.2" width="2.15" height="7.1"/><rect x="752.49" y="561.2" width="2.15" height="10.1"/><rect x="758.26" y="561.2" width="2.15" height="10.1"/><rect x="762.11" y="561.2" width="2.15" height="10.1"/><rect x="767.87" y="559.5" width="2.15" height="11.8"/><rect x="771.72" y="568.2" width="2.15" height="3.1"/><rect x="777.49" y="566.5" width="2.15" height="4.8"/><rect x="781.34" y="565.5" width="2.15" height="5.8"/><rect x="787.1" y="563.8" width="2.15" height="7.5"/><rect x="790.95" y="565.5" width="2.15" height="5.8"/><rect x="796.72" y="566.8" width="2.15" height="4.5"/><rect x="800.57" y="559.5" width="2.15" height="11.8"/><rect x="806.33" y="555.2" width="2.15" height="16.1"/><rect x="810.18" y="559.5" width="2.15" height="11.8"/><rect x="815.95" y="566.8" width="2.15" height="4.5"/><rect x="819.8" y="569.2" width="2.15" height="2.1"/><rect x="848.64" y="569.2" width="2.15" height="2.1"/><rect x="854.41" y="564.2" width="2.15" height="7.1"/><rect x="858.26" y="564.2" width="2.15" height="7.1"/><rect x="862.1" y="562.5" width="2.15" height="8.8"/><rect x="867.87" y="562.5" width="2.15" height="8.8"/><rect x="873.64" y="563.8" width="2.15" height="7.5"/><rect x="877.49" y="568.2" width="2.15" height="3.1"/><rect x="883.25" y="568.2" width="2.15" height="3.1"/><rect x="887.1" y="565.5" width="2.15" height="5.8"/><rect x="890.95" y="559.8" width="2.15" height="11.5"/><rect x="896.72" y="562.5" width="2.15" height="8.8"/><rect x="900.56" y="564.2" width="2.15" height="7.1"/><rect x="906.33" y="555.5" width="2.15" height="15.8"/><rect x="910.18" y="542.8" width="2.15" height="28.5"/><rect x="915.95" y="542.8" width="2.15" height="28.5"/><rect x="919.79" y="515.8" width="2.15" height="55.5"/><rect x="925.56" y="515.8" width="2.15" height="55.5"/><rect x="929.41" y="390.4" width="2.15" height="180.9"/><rect x="935.18" y="386.1" width="2.15" height="185.2"/><rect x="939.02" y="400.7" width="2.15" height="170.6"/><rect x="944.79" y="408.9" width="2.15" height="162.4"/><rect x="948.64" y="453.5" width="2.15" height="117.8"/><rect x="954.41" y="437.3" width="2.15" height="134"/><rect x="958.25" y="414.7" width="2.15" height="156.6"/><rect x="964.02" y="387.4" width="2.15" height="183.9"/><rect x="967.87" y="480.4" width="2.15" height="90.9"/><rect x="973.64" y="528.8" width="2.15" height="42.5"/><rect x="977.48" y="495.9" width="2.15" height="75.4"/><rect x="983.25" y="564.3" width="2.15" height="7"/><rect x="987.1" y="564.3" width="2.15" height="7"/><rect x="992.87" y="562.6" width="2.15" height="8.7"/><rect x="996.71" y="562.6" width="2.15" height="8.7"/><rect x="1002.48" y="561.1" width="2.15" height="10.2"/><rect x="1006.33" y="561.1" width="2.15" height="10.2"/><rect x="1012.1" y="556.8" width="2.15" height="14.5"/><rect x="1015.94" y="556.8" width="2.15" height="14.5"/><rect x="1021.71" y="559.6" width="2.15" height="11.7"/><rect x="1025.56" y="558.5" width="2.15" height="12.8"/><rect x="1031.33" y="560" width="2.15" height="11.3"/><rect x="1035.17" y="556.8" width="2.15" height="14.5"/><rect x="1040.94" y="557" width="2.15" height="14.3"/><rect x="1044.79" y="557" width="2.15" height="14.3"/><rect x="1050.56" y="557" width="2.15" height="14.3"/><rect x="1054.4" y="555.5" width="2.15" height="15.8"/><rect x="1060.17" y="559.8" width="2.15" height="11.5"/><rect x="1064.02" y="551.4" width="2.15" height="19.9"/><rect x="1069.79" y="547.2" width="2.15" height="24.1"/><rect x="1073.63" y="545.5" width="2.15" height="25.8"/><rect x="1079.4" y="547.2" width="2.15" height="24.1"/><rect x="1083.25" y="551.4" width="2.15" height="19.9"/><rect x="1089.02" y="562.8" width="2.15" height="8.5"/><rect x="1092.86" y="558.5" width="2.15" height="12.8"/><rect x="1096.71" y="561.5" width="2.15" height="9.8"/><rect x="1102.48" y="557.2" width="2.15" height="14.1"/><rect x="1106.32" y="558.8" width="2.15" height="12.5"/><rect x="1112.09" y="560.1" width="2.15" height="11.2"/><rect x="1115.94" y="542.7" width="2.15" height="28.6"/><rect x="1121.71" y="512.7" width="2.15" height="58.6"/><rect x="1125.55" y="501.7" width="2.15" height="69.6"/><rect x="1131.32" y="475.8" width="2.15" height="95.5"/><rect x="1135.17" y="430.2" width="2.15" height="141.1"/><rect x="1140.94" y="569.2" width="2.15" height="2.1"/><rect x="1144.78" y="569.2" width="2.15" height="2.1"/><rect x="1150.55" y="569.2" width="2.15" height="2.1"/><rect x="1154.4" y="569.2" width="2.15" height="2.1"/><rect x="1164.01" y="569.2" width="2.15" height="2.1"/><rect x="1169.78" y="567.7" width="2.15" height="3.6"/><rect x="1173.63" y="569.2" width="2.15" height="2.1"/><rect x="1179.4" y="569.2" width="2.15" height="2.1"/><rect x="1183.24" y="569.2" width="2.15" height="2.1"/><rect x="1189.01" y="569.2" width="2.15" height="2.1"/><rect x="1192.86" y="567.7" width="2.15" height="3.6"/></g></defs>
<use href="#lele" fill="#bdd2f1"/><use href="#bele" fill="#6e97d9"/>
<mask id="mele" maskUnits="userSpaceOnUse" x="0" y="0" width="1200" height="975"><use href="#lele" fill="#fff"/><use href="#bele" fill="#fff"/></mask>
<g mask="url(#mele)" fill="rgba(40,60,120,0.13)"><rect x="662.8" y="376" width="540" height="1.6"/><rect x="662.8" y="414.9" width="540" height="1.6"/><rect x="662.8" y="453.8" width="540" height="1.6"/><rect x="662.8" y="492.7" width="540" height="1.6"/><rect x="662.8" y="531.6" width="540" height="1.6"/></g>
<text class="t" x="932.2" y="348" font-size="14.9" text-anchor="middle" textLength="34.5" lengthAdjust="spacingAndGlyphs">ELE</text>
<text transform="translate(661.5,381.1) scale(1.3,1)" font-size="13.3" text-anchor="end">5</text>
<text transform="translate(661.5,420) scale(1.3,1)" font-size="13.3" text-anchor="end">4</text>
<text transform="translate(661.5,458.9) scale(1.3,1)" font-size="13.3" text-anchor="end">3</text>
<text transform="translate(661.5,497.8) scale(1.3,1)" font-size="13.3" text-anchor="end">2</text>
<text transform="translate(661.5,536.7) scale(1.3,1)" font-size="13.3" text-anchor="end">1</text>
<text transform="translate(661.5,575.6) scale(1.3,1)" font-size="13.3" text-anchor="end">0</text>
<text transform="translate(675.8,579.1) scale(1.4,1) rotate(-90)" class="r" font-size="13.3" text-anchor="end">1 - 19Q3</text>
<text transform="translate(698.88,579.1) scale(1.4,1) rotate(-90)" class="r" font-size="13.3" text-anchor="end">1 - 20Q4</text>
<text transform="translate(723.88,579.1) scale(1.4,1) rotate(-90)" class="r" font-size="13.3" text-anchor="end">1 - 22Q1</text>
<text transform="translate(746.95,579.1) scale(1.4,1) rotate(-90)" class="r" font-size="13.3" text-anchor="end">2 - 20Q3</text>
<text transform="translate(771.95,579.1) scale(1.4,1) rotate(-90)" class="r" font-size="13.3" text-anchor="end">2 - 21Q4</text>
<text transform="translate(795.03,579.1) scale(1.4,1) rotate(-90)" class="r" font-size="13.3" text-anchor="end">3 - 20Q2</text>
<text transform="translate(820.02,579.1) scale(1.4,1) rotate(-90)" class="r" font-size="13.3" text-anchor="end">3 - 21Q3</text>
<text transform="translate(843.1,579.1) scale(1.4,1) rotate(-90)" class="r" font-size="13.3" text-anchor="end">4 - 20Q1</text>
<text transform="translate(866.18,579.1) scale(1.4,1) rotate(-90)" class="r" font-size="13.3" text-anchor="end">4 - 21Q2</text>
<text transform="translate(891.18,579.1) scale(1.4,1) rotate(-90)" class="r" font-size="13.3" text-anchor="end">5 - 19Q4</text>
<text transform="translate(914.25,579.1) scale(1.4,1) rotate(-90)" class="r" font-size="13.3" text-anchor="end">5 - 21Q1</text>
<text transform="translate(939.25,579.1) scale(1.4,1) rotate(-90)" class="r" font-size="13.3" text-anchor="end">6 - 19Q3</text>
<text transform="translate(962.33,579.1) scale(1.4,1) rotate(-90)" class="r" font-size="13.3" text-anchor="end">6 - 20Q4</text>
<text transform="translate(987.33,579.1) scale(1.4,1) rotate(-90)" class="r" font-size="13.3" text-anchor="end">6 - 22Q1</text>
<text transform="translate(1010.4,579.1) scale(1.4,1) rotate(-90)" class="r" font-size="13.3" text-anchor="end">7 - 20Q3</text>
<text transform="translate(1035.4,579.1) scale(1.4,1) rotate(-90)" class="r" font-size="13.3" text-anchor="end">7 - 21Q4</text>
<text transform="translate(1058.48,579.1) scale(1.4,1) rotate(-90)" class="r" font-size="13.3" text-anchor="end">8 - 20Q2</text>
<text transform="translate(1083.48,579.1) scale(1.4,1) rotate(-90)" class="r" font-size="13.3" text-anchor="end">8 - 21Q3</text>
<text transform="translate(1106.55,579.1) scale(1.4,1) rotate(-90)" class="r" font-size="13.3" text-anchor="end">9 - 20Q1</text>
<text transform="translate(1129.63,579.1) scale(1.4,1) rotate(-90)" class="r" font-size="13.3" text-anchor="end">9 - 21Q2</text>
<text transform="translate(1154.63,579.1) scale(1.4,1) rotate(-90)" class="r" font-size="13.3" text-anchor="end">10 - 19Q4</text>
<text transform="translate(1177.7,579.1) scale(1.4,1) rotate(-90)" class="r" font-size="13.3" text-anchor="end">10 - 21Q1</text>
</g>
<g>
<defs><g id="ltgp"><rect x="68.09" y="790.5" width="1.92" height="3.4"/><rect x="77.71" y="786.5" width="1.92" height="7.4"/><rect x="87.32" y="762.2" width="1.92" height="31.7"/><rect x="106.55" y="793.9" width="1.92" height="45.3"/><rect x="116.17" y="793.9" width="1.92" height="39.5"/><rect x="125.78" y="793.9" width="1.92" height="12.6"/><rect x="135.4" y="793.9" width="1.92" height="12.6"/><rect x="145.01" y="793.9" width="1.92" height="11"/><rect x="154.63" y="793.9" width="1.92" height="19.9"/><rect x="164.24" y="793.9" width="1.92" height="12.6"/><rect x="173.86" y="793.9" width="1.92" height="9.9"/><rect x="183.47" y="793.9" width="1.92" height="2.9"/><rect x="193.09" y="793.9" width="1.92" height="15.1"/><rect x="221.93" y="793.9" width="1.92" height="44.9"/><rect x="231.55" y="793.9" width="1.92" height="15.3"/><rect x="241.16" y="793.9" width="1.92" height="12.3"/><rect x="250.78" y="793.9" width="1.92" height="16.6"/><rect x="260.39" y="766.8" width="1.92" height="27.1"/><rect x="270.01" y="752.2" width="1.92" height="41.7"/><rect x="273.85" y="753.8" width="1.92" height="40.1"/><rect x="283.47" y="749.5" width="1.92" height="44.4"/><rect x="293.08" y="736.8" width="1.92" height="57.1"/><rect x="302.7" y="728.2" width="1.92" height="65.7"/><rect x="312.31" y="766.8" width="1.92" height="27.1"/><rect x="321.93" y="769.5" width="1.92" height="24.4"/><rect x="331.54" y="770.8" width="1.92" height="23.1"/><rect x="341.16" y="768.2" width="1.92" height="25.7"/><rect x="360.39" y="789.5" width="1.92" height="4.4"/><rect x="370" y="788.2" width="1.92" height="5.7"/><rect x="379.62" y="786.5" width="1.92" height="7.4"/><rect x="389.23" y="783.5" width="1.92" height="10.4"/><rect x="398.85" y="783.5" width="1.92" height="10.4"/><rect x="408.46" y="786.5" width="1.92" height="7.4"/><rect x="418.08" y="759.5" width="1.92" height="34.4"/><rect x="427.69" y="759.5" width="1.92" height="34.4"/><rect x="437.31" y="759.5" width="1.92" height="34.4"/><rect x="446.92" y="752.3" width="1.92" height="41.6"/><rect x="456.54" y="753.5" width="1.92" height="40.4"/><rect x="498.84" y="776.7" width="1.92" height="17.2"/><rect x="508.46" y="768.2" width="1.92" height="25.7"/><rect x="527.69" y="793.9" width="1.92" height="4.1"/><rect x="537.3" y="793.9" width="1.92" height="9.8"/><rect x="556.53" y="793.9" width="1.92" height="5.6"/></g><g id="btgp"><rect x="52.59" y="793.9" width="2.15" height="3.9"/><rect x="62.21" y="793.9" width="2.15" height="5.6"/><rect x="66.05" y="790.5" width="2.15" height="3.4"/><rect x="69.9" y="790.5" width="2.15" height="3.4"/><rect x="75.67" y="786.5" width="2.15" height="7.4"/><rect x="79.52" y="768.2" width="2.15" height="25.7"/><rect x="85.28" y="762.2" width="2.15" height="31.7"/><rect x="89.13" y="762.2" width="2.15" height="31.7"/><rect x="94.9" y="760.5" width="2.15" height="33.4"/><rect x="98.75" y="793.9" width="2.15" height="35.3"/><rect x="104.52" y="793.9" width="2.15" height="47"/><rect x="108.36" y="793.9" width="2.15" height="45.3"/><rect x="114.13" y="793.9" width="2.15" height="39.5"/><rect x="117.98" y="793.9" width="2.15" height="45.3"/><rect x="123.74" y="793.9" width="2.15" height="22.6"/><rect x="127.59" y="793.9" width="2.15" height="12.6"/><rect x="133.36" y="793.9" width="2.15" height="12.6"/><rect x="137.21" y="793.9" width="2.15" height="12.6"/><rect x="142.98" y="793.9" width="2.15" height="12.6"/><rect x="146.82" y="793.9" width="2.15" height="11"/><rect x="152.59" y="793.9" width="2.15" height="21.3"/><rect x="156.44" y="793.9" width="2.15" height="19.9"/><rect x="162.21" y="793.9" width="2.15" height="12.6"/><rect x="166.05" y="793.9" width="2.15" height="14.2"/><rect x="171.82" y="793.9" width="2.15" height="18.6"/><rect x="175.67" y="793.9" width="2.15" height="9.9"/><rect x="181.44" y="793.9" width="2.15" height="2.9"/><rect x="185.28" y="793.9" width="2.15" height="3.9"/><rect x="191.05" y="793.9" width="2.15" height="15.1"/><rect x="194.9" y="793.9" width="2.15" height="28.4"/><rect x="200.67" y="793.9" width="2.15" height="50.9"/><rect x="219.9" y="793.9" width="2.15" height="107.9"/><rect x="223.74" y="793.9" width="2.15" height="44.9"/><rect x="229.51" y="793.9" width="2.15" height="18"/><rect x="233.36" y="793.9" width="2.15" height="15.3"/><rect x="239.13" y="793.9" width="2.15" height="15.3"/><rect x="242.97" y="793.9" width="2.15" height="12.3"/><rect x="248.74" y="793.9" width="2.15" height="16.6"/><rect x="252.59" y="793.9" width="2.15" height="16.6"/><rect x="258.36" y="766.8" width="2.15" height="27.1"/><rect x="262.2" y="763.9" width="2.15" height="30"/><rect x="267.97" y="752.2" width="2.15" height="41.7"/><rect x="271.82" y="749.5" width="2.15" height="44.4"/><rect x="275.66" y="753.8" width="2.15" height="40.1"/><rect x="281.43" y="749.5" width="2.15" height="44.4"/><rect x="285.28" y="739.5" width="2.15" height="54.4"/><rect x="291.05" y="736.8" width="2.15" height="57.1"/><rect x="294.89" y="730.8" width="2.15" height="63.1"/><rect x="300.66" y="726.5" width="2.15" height="67.4"/><rect x="304.51" y="728.2" width="2.15" height="65.7"/><rect x="310.28" y="765.1" width="2.15" height="28.8"/><rect x="314.12" y="766.8" width="2.15" height="27.1"/><rect x="319.89" y="766.8" width="2.15" height="27.1"/><rect x="323.74" y="769.5" width="2.15" height="24.4"/><rect x="329.51" y="770.8" width="2.15" height="23.1"/><rect x="333.35" y="769.5" width="2.15" height="24.4"/><rect x="339.12" y="765.1" width="2.15" height="28.8"/><rect x="342.97" y="768.2" width="2.15" height="25.7"/><rect x="352.58" y="779.5" width="2.15" height="14.4"/><rect x="358.35" y="774.8" width="2.15" height="19.1"/><rect x="362.2" y="789.5" width="2.15" height="4.4"/><rect x="367.97" y="788.2" width="2.15" height="5.7"/><rect x="371.81" y="786.5" width="2.15" height="7.4"/><rect x="377.58" y="786.5" width="2.15" height="7.4"/><rect x="381.43" y="785.2" width="2.15" height="8.7"/><rect x="387.2" y="783.5" width="2.15" height="10.4"/><rect x="391.04" y="779.5" width="2.15" height="14.4"/><rect x="396.81" y="783.5" width="2.15" height="10.4"/><rect x="400.66" y="782.1" width="2.15" height="11.8"/><rect x="406.43" y="783.5" width="2.15" height="10.4"/><rect x="410.27" y="786.5" width="2.15" height="7.4"/><rect x="416.04" y="759.5" width="2.15" height="34.4"/><rect x="419.89" y="759.5" width="2.15" height="34.4"/><rect x="425.66" y="759.5" width="2.15" height="34.4"/><rect x="429.5" y="758" width="2.15" height="35.9"/><rect x="435.27" y="759.5" width="2.15" height="34.4"/><rect x="439.12" y="758" width="2.15" height="35.9"/><rect x="444.89" y="752.3" width="2.15" height="41.6"/><rect x="448.73" y="750.9" width="2.15" height="43"/><rect x="454.5" y="750.9" width="2.15" height="43"/><rect x="458.35" y="753.5" width="2.15" height="40.4"/><rect x="464.12" y="755.3" width="2.15" height="38.6"/><rect x="467.96" y="793.9" width="2.15" height="5.6"/><rect x="477.58" y="793.9" width="2.15" height="2.9"/><rect x="481.42" y="791.7" width="2.15" height="2.2"/><rect x="487.19" y="793.9" width="2.15" height="4.1"/><rect x="491.04" y="788" width="2.15" height="5.9"/><rect x="496.81" y="776.7" width="2.15" height="17.2"/><rect x="500.65" y="772.5" width="2.15" height="21.4"/><rect x="506.42" y="768.2" width="2.15" height="25.7"/><rect x="510.27" y="764" width="2.15" height="29.9"/><rect x="516.04" y="760.7" width="2.15" height="33.2"/><rect x="519.88" y="793.9" width="2.15" height="5.6"/><rect x="525.65" y="793.9" width="2.15" height="6.8"/><rect x="529.5" y="793.9" width="2.15" height="4.1"/><rect x="535.27" y="793.9" width="2.15" height="16.8"/><rect x="539.11" y="793.9" width="2.15" height="9.8"/><rect x="548.73" y="793.9" width="2.15" height="4.1"/><rect x="554.5" y="793.9" width="2.15" height="5.6"/><rect x="558.34" y="793.9" width="2.15" height="8.3"/><rect x="564.11" y="793.9" width="2.15" height="5.6"/></g></defs>
<use href="#ltgp" fill="#bdd2f1"/><use href="#btgp" fill="#6e97d9"/>
<mask id="mtgp" maskUnits="userSpaceOnUse" x="0" y="0" width="1200" height="975"><use href="#ltgp" fill="#fff"/><use href="#btgp" fill="#fff"/></mask>
<g mask="url(#mtgp)" fill="rgba(40,60,120,0.13)"><rect x="37.9" y="709.7" width="540" height="1.6"/><rect x="37.9" y="737.5" width="540" height="1.6"/><rect x="37.9" y="765.3" width="540" height="1.6"/><rect x="37.9" y="820.9" width="540" height="1.6"/><rect x="37.9" y="848.7" width="540" height="1.6"/><rect x="37.9" y="876.5" width="540" height="1.6"/><rect x="37.9" y="904.3" width="540" height="1.6"/></g>
<rect x="45.5" y="793" width="526.7" height="1.8" fill="#2e2e2e"/>
<text class="t" x="308" y="681.2" font-size="14.9" text-anchor="middle" textLength="42" lengthAdjust="spacingAndGlyphs">TGP</text>
<text transform="translate(37.5,713.8) scale(1.3,1)" font-size="13.3" text-anchor="end">6</text>
<text transform="translate(37.5,741.6) scale(1.3,1)" font-size="13.3" text-anchor="end">4</text>
<text transform="translate(37.5,769.4) scale(1.3,1)" font-size="13.3" text-anchor="end">2</text>
<text transform="translate(37.5,797.2) scale(1.3,1)" font-size="13.3" text-anchor="end">0</text>
<text transform="translate(37.5,825) scale(1.3,1)" font-size="13.3" text-anchor="end">-2</text>
<text transform="translate(37.5,852.8) scale(1.3,1)" font-size="13.3" text-anchor="end">-4</text>
<text transform="translate(37.5,880.6) scale(1.3,1)" font-size="13.3" text-anchor="end">-6</text>
<text transform="translate(37.5,908.4) scale(1.3,1)" font-size="13.3" text-anchor="end">-8</text>
<text transform="translate(50.9,911.6) scale(1.4,1) rotate(-90)" class="r" font-size="13.3" text-anchor="end">1 - 19Q3</text>
<text transform="translate(73.98,911.6) scale(1.4,1) rotate(-90)" class="r" font-size="13.3" text-anchor="end">1 - 20Q4</text>
<text transform="translate(98.97,911.6) scale(1.4,1) rotate(-90)" class="r" font-size="13.3" text-anchor="end">1 - 22Q1</text>
<text transform="translate(122.05,911.6) scale(1.4,1) rotate(-90)" class="r" font-size="13.3" text-anchor="end">2 - 20Q3</text>
<text transform="translate(147.05,911.6) scale(1.4,1) rotate(-90)" class="r" font-size="13.3" text-anchor="end">2 - 21Q4</text>
<text transform="translate(170.13,911.6) scale(1.4,1) rotate(-90)" class="r" font-size="13.3" text-anchor="end">3 - 20Q2</text>
<text transform="translate(195.12,911.6) scale(1.4,1) rotate(-90)" class="r" font-size="13.3" text-anchor="end">3 - 21Q3</text>
<text transform="translate(218.2,911.6) scale(1.4,1) rotate(-90)" class="r" font-size="13.3" text-anchor="end">4 - 20Q1</text>
<text transform="translate(243.2,911.6) scale(1.4,1) rotate(-90)" class="r" font-size="13.3" text-anchor="end">4 - 21Q2</text>
<text transform="translate(266.28,911.6) scale(1.4,1) rotate(-90)" class="r" font-size="13.3" text-anchor="end">5 - 19Q4</text>
<text transform="translate(289.35,911.6) scale(1.4,1) rotate(-90)" class="r" font-size="13.3" text-anchor="end">5 - 21Q1</text>
<text transform="translate(314.35,911.6) scale(1.4,1) rotate(-90)" class="r" font-size="13.3" text-anchor="end">6 - 19Q3</text>
<text transform="translate(337.43,911.6) scale(1.4,1) rotate(-90)" class="r" font-size="13.3" text-anchor="end">6 - 20Q4</text>
<text transform="translate(362.43,911.6) scale(1.4,1) rotate(-90)" class="r" font-size="13.3" text-anchor="end">6 - 22Q1</text>
<text transform="translate(385.5,911.6) scale(1.4,1) rotate(-90)" class="r" font-size="13.3" text-anchor="end">7 - 20Q3</text>
<text transform="translate(410.5,911.6) scale(1.4,1) rotate(-90)" class="r" font-size="13.3" text-anchor="end">7 - 21Q4</text>
<text transform="translate(433.58,911.6) scale(1.4,1) rotate(-90)" class="r" font-size="13.3" text-anchor="end">8 - 20Q2</text>
<text transform="translate(458.58,911.6) scale(1.4,1) rotate(-90)" class="r" font-size="13.3" text-anchor="end">8 - 21Q3</text>
<text transform="translate(481.65,911.6) scale(1.4,1) rotate(-90)" class="r" font-size="13.3" text-anchor="end">9 - 20Q1</text>
<text transform="translate(504.73,911.6) scale(1.4,1) rotate(-90)" class="r" font-size="13.3" text-anchor="end">9 - 21Q2</text>
<text transform="translate(529.73,911.6) scale(1.4,1) rotate(-90)" class="r" font-size="13.3" text-anchor="end">10 - 19Q4</text>
<text transform="translate(552.8,911.6) scale(1.4,1) rotate(-90)" class="r" font-size="13.3" text-anchor="end">10 - 21Q1</text>
</g>
<g>
<defs><g id="lwtr"><rect x="679.53" y="750" width="1.92" height="55.2"/><rect x="683.38" y="750" width="1.92" height="55.2"/><rect x="692.99" y="750" width="1.92" height="48.1"/><rect x="702.61" y="750" width="1.92" height="16.5"/><rect x="712.22" y="750" width="1.92" height="9.5"/><rect x="721.84" y="750" width="1.92" height="56.5"/><rect x="731.45" y="750" width="1.92" height="69.5"/><rect x="741.07" y="750" width="1.92" height="62.5"/><rect x="750.68" y="750" width="1.92" height="25.5"/><rect x="760.3" y="750" width="1.92" height="23.8"/><rect x="769.91" y="750" width="1.92" height="22.5"/><rect x="779.53" y="750" width="1.92" height="36.9"/><rect x="789.14" y="750" width="1.92" height="29.5"/><rect x="798.76" y="750" width="1.92" height="22.5"/><rect x="808.37" y="750" width="1.92" height="15.2"/><rect x="817.99" y="750" width="1.92" height="40.9"/><rect x="846.83" y="750" width="1.92" height="51.8"/><rect x="856.45" y="750" width="1.92" height="29.2"/><rect x="860.29" y="750" width="1.92" height="26.5"/><rect x="875.68" y="750" width="1.92" height="30.5"/><rect x="885.29" y="750" width="1.92" height="36.5"/><rect x="889.14" y="750" width="1.92" height="22.5"/><rect x="898.75" y="750" width="1.92" height="27.8"/><rect x="908.37" y="750" width="1.92" height="4.9"/><rect x="927.6" y="742.5" width="1.92" height="7.5"/><rect x="937.21" y="721.1" width="1.92" height="28.9"/><rect x="946.83" y="728.2" width="1.92" height="21.8"/><rect x="956.44" y="725.5" width="1.92" height="24.5"/><rect x="966.06" y="732.8" width="1.92" height="17.2"/><rect x="975.67" y="747.7" width="1.92" height="2.3"/><rect x="985.29" y="750" width="1.92" height="30.5"/><rect x="994.9" y="750" width="1.92" height="26.5"/><rect x="1004.52" y="750" width="1.92" height="24.8"/><rect x="1014.13" y="750" width="1.92" height="17.8"/><rect x="1023.75" y="750" width="1.92" height="20.5"/><rect x="1033.36" y="750" width="1.92" height="19.2"/><rect x="1042.98" y="750" width="1.92" height="19.5"/><rect x="1052.59" y="750" width="1.92" height="16.5"/><rect x="1062.21" y="750" width="1.92" height="12.1"/><rect x="1071.82" y="750" width="1.92" height="6.5"/><rect x="1081.44" y="750" width="1.92" height="7.8"/><rect x="1091.05" y="750" width="1.92" height="19.2"/><rect x="1094.9" y="750" width="1.92" height="19.2"/><rect x="1104.51" y="750" width="1.92" height="17.8"/><rect x="1114.13" y="750" width="1.92" height="4.9"/><rect x="1123.74" y="740.8" width="1.92" height="9.2"/><rect x="1133.36" y="732.5" width="1.92" height="17.5"/><rect x="1142.97" y="750" width="1.92" height="54.9"/><rect x="1152.59" y="750" width="1.92" height="54.9"/><rect x="1162.2" y="750" width="1.92" height="60.5"/><rect x="1171.82" y="750" width="1.92" height="47.8"/><rect x="1181.43" y="750" width="1.92" height="56.5"/><rect x="1191.05" y="750" width="1.92" height="49.2"/></g><g id="bwtr"><rect x="671.72" y="750" width="2.15" height="52.2"/><rect x="677.49" y="750" width="2.15" height="57.8"/><rect x="681.34" y="750" width="2.15" height="55.2"/><rect x="685.19" y="750" width="2.15" height="60.5"/><rect x="690.95" y="750" width="2.15" height="48.1"/><rect x="694.8" y="750" width="2.15" height="49.5"/><rect x="700.57" y="750" width="2.15" height="42.2"/><rect x="704.42" y="750" width="2.15" height="16.5"/><rect x="710.18" y="750" width="2.15" height="9.5"/><rect x="714.03" y="750" width="2.15" height="9.5"/><rect x="719.8" y="750" width="2.15" height="56.5"/><rect x="723.65" y="750" width="2.15" height="69.5"/><rect x="729.41" y="750" width="2.15" height="73.8"/><rect x="733.26" y="750" width="2.15" height="69.5"/><rect x="739.03" y="750" width="2.15" height="66.8"/><rect x="742.88" y="750" width="2.15" height="62.5"/><rect x="748.64" y="750" width="2.15" height="30.9"/><rect x="752.49" y="750" width="2.15" height="25.5"/><rect x="758.26" y="750" width="2.15" height="25.5"/><rect x="762.11" y="750" width="2.15" height="23.8"/><rect x="767.87" y="750" width="2.15" height="22.5"/><rect x="771.72" y="750" width="2.15" height="43.8"/><rect x="777.49" y="750" width="2.15" height="42.5"/><rect x="781.34" y="750" width="2.15" height="36.9"/><rect x="787.1" y="750" width="2.15" height="29.5"/><rect x="790.95" y="750" width="2.15" height="35.2"/><rect x="796.72" y="750" width="2.15" height="38.2"/><rect x="800.57" y="750" width="2.15" height="22.5"/><rect x="806.33" y="750" width="2.15" height="15.2"/><rect x="810.18" y="750" width="2.15" height="22.5"/><rect x="815.95" y="750" width="2.15" height="40.9"/><rect x="819.8" y="750" width="2.15" height="62.2"/><rect x="844.79" y="750" width="2.15" height="149.5"/><rect x="848.64" y="750" width="2.15" height="51.8"/><rect x="854.41" y="750" width="2.15" height="29.2"/><rect x="858.26" y="750" width="2.15" height="30.5"/><rect x="862.1" y="750" width="2.15" height="26.5"/><rect x="867.87" y="750" width="2.15" height="27.8"/><rect x="873.64" y="750" width="2.15" height="30.5"/><rect x="877.49" y="750" width="2.15" height="46.2"/><rect x="883.25" y="750" width="2.15" height="46.2"/><rect x="887.1" y="750" width="2.15" height="36.5"/><rect x="890.95" y="750" width="2.15" height="22.5"/><rect x="896.72" y="750" width="2.15" height="27.8"/><rect x="900.56" y="750" width="2.15" height="29.2"/><rect x="906.33" y="750" width="2.15" height="16.5"/><rect x="910.18" y="750" width="2.15" height="4.9"/><rect x="915.95" y="750" width="2.15" height="5.2"/><rect x="919.79" y="742.5" width="2.15" height="7.5"/><rect x="925.56" y="742.5" width="2.15" height="7.5"/><rect x="929.41" y="719.8" width="2.15" height="30.2"/><rect x="935.18" y="719.5" width="2.15" height="30.5"/><rect x="939.02" y="721.1" width="2.15" height="28.9"/><rect x="944.79" y="722.5" width="2.15" height="27.5"/><rect x="948.64" y="728.2" width="2.15" height="21.8"/><rect x="954.41" y="725.5" width="2.15" height="24.5"/><rect x="958.25" y="722.5" width="2.15" height="27.5"/><rect x="964.02" y="719.8" width="2.15" height="30.2"/><rect x="967.87" y="732.8" width="2.15" height="17.2"/><rect x="973.64" y="747.7" width="2.15" height="2.3"/><rect x="977.48" y="736.8" width="2.15" height="13.2"/><rect x="983.25" y="750" width="2.15" height="30.5"/><rect x="987.1" y="750" width="2.15" height="30.5"/><rect x="992.87" y="750" width="2.15" height="27.8"/><rect x="996.71" y="750" width="2.15" height="26.5"/><rect x="1002.48" y="750" width="2.15" height="24.8"/><rect x="1006.33" y="750" width="2.15" height="26.5"/><rect x="1012.1" y="750" width="2.15" height="17.8"/><rect x="1015.94" y="750" width="2.15" height="17.8"/><rect x="1021.71" y="750" width="2.15" height="22.1"/><rect x="1025.56" y="750" width="2.15" height="20.5"/><rect x="1031.33" y="750" width="2.15" height="23.5"/><rect x="1035.17" y="750" width="2.15" height="19.2"/><rect x="1040.94" y="750" width="2.15" height="19.5"/><rect x="1044.79" y="750" width="2.15" height="19.5"/><rect x="1050.56" y="750" width="2.15" height="19.5"/><rect x="1054.4" y="750" width="2.15" height="16.5"/><rect x="1060.17" y="750" width="2.15" height="22.1"/><rect x="1064.02" y="750" width="2.15" height="12.1"/><rect x="1069.79" y="750" width="2.15" height="7.8"/><rect x="1073.63" y="750" width="2.15" height="6.5"/><rect x="1079.4" y="750" width="2.15" height="7.8"/><rect x="1083.25" y="750" width="2.15" height="12.1"/><rect x="1089.02" y="750" width="2.15" height="26.5"/><rect x="1092.86" y="750" width="2.15" height="19.2"/><rect x="1096.71" y="750" width="2.15" height="25.2"/><rect x="1102.48" y="750" width="2.15" height="17.8"/><rect x="1106.32" y="750" width="2.15" height="20.8"/><rect x="1112.09" y="750" width="2.15" height="22.1"/><rect x="1115.94" y="750" width="2.15" height="4.9"/><rect x="1121.71" y="740.8" width="2.15" height="9.2"/><rect x="1125.55" y="738.2" width="2.15" height="11.8"/><rect x="1131.32" y="732.5" width="2.15" height="17.5"/><rect x="1135.17" y="723.9" width="2.15" height="26.1"/><rect x="1140.94" y="750" width="2.15" height="54.9"/><rect x="1144.78" y="750" width="2.15" height="56.5"/><rect x="1150.55" y="750" width="2.15" height="54.9"/><rect x="1154.4" y="750" width="2.15" height="59.2"/><rect x="1160.17" y="750" width="2.15" height="69.2"/><rect x="1164.01" y="750" width="2.15" height="60.5"/><rect x="1169.78" y="750" width="2.15" height="47.8"/><rect x="1173.63" y="750" width="2.15" height="54.9"/><rect x="1179.4" y="750" width="2.15" height="56.5"/><rect x="1183.24" y="750" width="2.15" height="57.5"/><rect x="1189.01" y="750" width="2.15" height="53.5"/><rect x="1192.86" y="750" width="2.15" height="49.2"/></g></defs>
<use href="#lwtr" fill="#bdd2f1"/><use href="#bwtr" fill="#6e97d9"/>
<mask id="mwtr" maskUnits="userSpaceOnUse" x="0" y="0" width="1200" height="975"><use href="#lwtr" fill="#fff"/><use href="#bwtr" fill="#fff"/></mask>
<g mask="url(#mwtr)" fill="rgba(40,60,120,0.13)"><rect x="662.8" y="710.3" width="540" height="1.6"/><rect x="662.8" y="788.1" width="540" height="1.6"/><rect x="662.8" y="827" width="540" height="1.6"/><rect x="662.8" y="865.9" width="540" height="1.6"/><rect x="662.8" y="904.8" width="540" height="1.6"/></g>
<rect x="669.5" y="749.1" width="527.8" height="1.8" fill="#2e2e2e"/>
<text class="t" x="932.8" y="681.2" font-size="14.9" text-anchor="middle" textLength="47.5" lengthAdjust="spacingAndGlyphs">WTR</text>
<text transform="translate(661.7,713.9) scale(1.3,1)" font-size="13.3" text-anchor="end">2</text>
<text transform="translate(661.7,752.8) scale(1.3,1)" font-size="13.3" text-anchor="end">0</text>
<text transform="translate(661.7,791.7) scale(1.3,1)" font-size="13.3" text-anchor="end">-2</text>
<text transform="translate(661.7,830.6) scale(1.3,1)" font-size="13.3" text-anchor="end">-4</text>
<text transform="translate(661.7,869.5) scale(1.3,1)" font-size="13.3" text-anchor="end">-6</text>
<text transform="translate(661.7,908.4) scale(1.3,1)" font-size="13.3" text-anchor="end">-8</text>
<text transform="translate(675.8,911.6) scale(1.4,1) rotate(-90)" class="r" font-size="13.3" text-anchor="end">1 - 19Q3</text>
<text transform="translate(698.88,911.6) scale(1.4,1) rotate(-90)" class="r" font-size="13.3" text-anchor="end">1 - 20Q4</text>
<text transform="translate(723.88,911.6) scale(1.4,1) rotate(-90)" class="r" font-size="13.3" text-anchor="end">1 - 22Q1</text>
<text transform="translate(746.95,911.6) scale(1.4,1) rotate(-90)" class="r" font-size="13.3" text-anchor="end">2 - 20Q3</text>
<text transform="translate(771.95,911.6) scale(1.4,1) rotate(-90)" class="r" font-size="13.3" text-anchor="end">2 - 21Q4</text>
<text transform="translate(795.03,911.6) scale(1.4,1) rotate(-90)" class="r" font-size="13.3" text-anchor="end">3 - 20Q2</text>
<text transform="translate(820.02,911.6) scale(1.4,1) rotate(-90)" class="r" font-size="13.3" text-anchor="end">3 - 21Q3</text>
<text transform="translate(843.1,911.6) scale(1.4,1) rotate(-90)" class="r" font-size="13.3" text-anchor="end">4 - 20Q1</text>
<text transform="translate(866.18,911.6) scale(1.4,1) rotate(-90)" class="r" font-size="13.3" text-anchor="end">4 - 21Q2</text>
<text transform="translate(891.18,911.6) scale(1.4,1) rotate(-90)" class="r" font-size="13.3" text-anchor="end">5 - 19Q4</text>
<text transform="translate(914.25,911.6) scale(1.4,1) rotate(-90)" class="r" font-size="13.3" text-anchor="end">5 - 21Q1</text>
<text transform="translate(939.25,911.6) scale(1.4,1) rotate(-90)" class="r" font-size="13.3" text-anchor="end">6 - 19Q3</text>
<text transform="translate(962.33,911.6) scale(1.4,1) rotate(-90)" class="r" font-size="13.3" text-anchor="end">6 - 20Q4</text>
<text transform="translate(987.33,911.6) scale(1.4,1) rotate(-90)" class="r" font-size="13.3" text-anchor="end">6 - 22Q1</text>
<text transform="translate(1010.4,911.6) scale(1.4,1) rotate(-90)" class="r" font-size="13.3" text-anchor="end">7 - 20Q3</text>
<text transform="translate(1035.4,911.6) scale(1.4,1) rotate(-90)" class="r" font-size="13.3" text-anchor="end">7 - 21Q4</text>
<text transform="translate(1058.48,911.6) scale(1.4,1) rotate(-90)" class="r" font-size="13.3" text-anchor="end">8 - 20Q2</text>
<text transform="translate(1083.48,911.6) scale(1.4,1) rotate(-90)" class="r" font-size="13.3" text-anchor="end">8 - 21Q3</text>
<text transform="translate(1106.55,911.6) scale(1.4,1) rotate(-90)" class="r" font-size="13.3" text-anchor="end">9 - 20Q1</text>
<text transform="translate(1129.63,911.6) scale(1.4,1) rotate(-90)" class="r" font-size="13.3" text-anchor="end">9 - 21Q2</text>
<text transform="translate(1154.63,911.6) scale(1.4,1) rotate(-90)" class="r" font-size="13.3" text-anchor="end">10 - 19Q4</text>
<text transform="translate(1177.7,911.6) scale(1.4,1) rotate(-90)" class="r" font-size="13.3" text-anchor="end">10 - 21Q1</text>
</g>
</g></svg></body></html>
